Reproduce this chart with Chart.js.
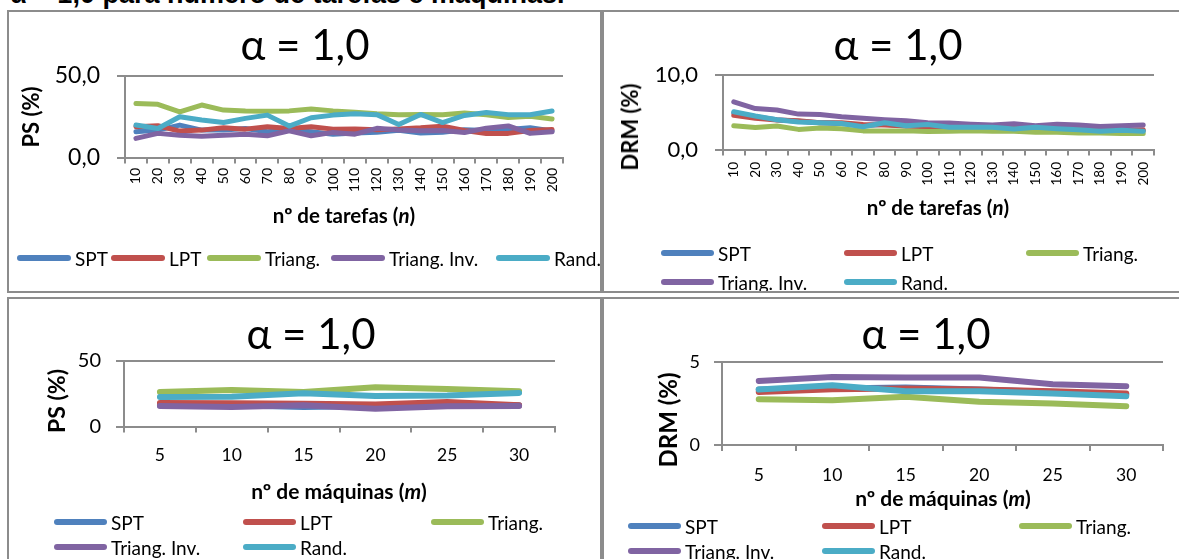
<!DOCTYPE html>
<html><head><meta charset="utf-8">
<script src="https://cdn.jsdelivr.net/npm/chart.js@4.4.1/dist/chart.umd.min.js"></script>
<style>
html,body{margin:0;padding:0;background:#fff;}
body{width:1179px;height:559px;position:relative;overflow:hidden;font-family:Lato,'Open Sans',sans-serif;color:#000;}
.panel{position:absolute;border:2px solid #8c8c8c;box-sizing:border-box;overflow:hidden;}
.panel canvas{position:absolute;left:0;top:0;}
.t{position:absolute;white-space:nowrap;line-height:1;}
.c{transform:translate(-50%,-50%);}
.r{transform:translate(-50%,-50%) rotate(-90deg);}
.ttl{font-size:42px;}
.ax{font-weight:bold;}
.leg{font-size:19px;transform:translateY(-50%);}
.lline{position:absolute;height:6px;border-radius:3px;}
#caption{position:absolute;left:10px;top:-19px;font:bold 27px 'Liberation Sans',Arial,sans-serif;white-space:nowrap;line-height:1;}
</style></head>
<body>
<div id="caption">α = 1,0 para número de tarefas e máquinas.</div>
<script>
// ---- data ----
const tarefas = [10,20,30,40,50,60,70,80,90,100,110,120,130,140,150,160,170,180,190,200];
const maquinas = [5,10,15,20,25,30];
const seriesNames = ['SPT','LPT','Triang.','Triang. Inv.','Rand.'];

const psTarefasTicks = ['0,0','50,0'];
const drmTarefasTicks = ['0,0','10,0'];
const psMaquinasTicks = ['0','50'];
const drmMaquinasTicks = ['0','5'];

const psTarefasSPT    = [15.8,16.8,19.9,16.8,16.8,17.8,15.8,16.8,15.8,14.2,15.0,15.5,16.7,15.0,15.5,17.0,16.6,17.2,18.2,16.2];
const psTarefasLPT    = [18.9,19.5,16.2,16.8,18.2,17.4,18.9,17.8,18.9,17.4,17.5,17.0,17.5,18.2,19.2,16.6,14.7,14.8,16.6,17.2];
const psTarefasTri    = [33.2,32.6,28.0,32.2,29.1,28.5,28.4,28.6,29.8,28.6,27.8,26.8,26.2,26.4,26.2,27.3,26.2,24.5,25.3,23.6];
const psTarefasTriInv = [11.7,14.8,13.7,13.1,13.7,14.3,13.3,16.4,13.3,15.4,14.3,17.9,16.9,16.4,16.5,15.3,18.0,19.4,14.8,15.8];
const psTarefasRand   = [19.9,17.8,25.0,23.0,21.5,24.0,26.0,19.3,24.4,26.0,26.8,26.3,20.3,26.4,21.4,25.8,27.6,26.3,26.2,28.5];

const drmTarefasSPT    = [4.90,4.40,4.00,3.80,3.60,3.50,3.20,3.40,3.15,3.20,2.95,2.95,2.90,2.80,2.90,2.75,2.70,2.50,2.55,2.50];
const drmTarefasLPT    = [4.60,4.20,3.95,3.85,3.60,3.60,3.35,3.30,3.15,3.05,3.00,2.90,2.85,2.85,2.80,2.80,2.75,2.60,2.60,2.65];
const drmTarefasTri    = [3.20,2.95,3.15,2.70,2.90,2.80,2.50,2.50,2.50,2.40,2.45,2.50,2.45,2.45,2.30,2.30,2.20,2.20,2.15,2.15];
const drmTarefasTriInv = [6.40,5.50,5.30,4.75,4.70,4.40,4.20,4.00,3.85,3.60,3.55,3.40,3.30,3.45,3.20,3.40,3.30,3.10,3.20,3.30];
const drmTarefasRand   = [5.07,4.50,4.00,3.70,3.60,3.50,3.05,3.60,3.20,3.35,3.00,3.00,3.00,2.75,3.00,2.80,2.65,2.45,2.60,2.45];

const psMaquinasSPT    = [16.2,16.2,14.9,15.6,16.2,16.2];
const psMaquinasLPT    = [17.9,17.7,17.4,16.7,18.7,16.2];
const psMaquinasTri    = [26.4,27.9,26.4,30.0,28.7,26.9];
const psMaquinasTriInv = [15.6,14.9,16.2,13.6,15.4,15.6];
const psMaquinasRand   = [22.6,22.8,25.4,23.3,23.6,25.6];

const drmMaquinasSPT    = [3.34,3.40,3.46,3.34,3.20,3.04];
const drmMaquinasLPT    = [3.20,3.36,3.40,3.34,3.24,3.10];
const drmMaquinasTri    = [2.76,2.70,2.90,2.60,2.50,2.34];
const drmMaquinasTriInv = [3.86,4.10,4.06,4.06,3.66,3.54];
const drmMaquinasRand   = [3.34,3.60,3.24,3.24,3.10,2.94];

// ---- styles / layout ----
const seriesColors = ['#4F81BD','#C0504D','#9BBB59','#8064A2','#4BACC6'];
const panels = {
  tl:{x:7,  y:10,  w:595, h:283},
  tr:{x:602,y:10,  w:579, h:283},
  bl:{x:7,  y:297, w:595, h:280},
  br:{x:602,y:297, w:579, h:280}
};
for (const k in panels){
  const p = panels[k], d = document.createElement('div');
  d.className='panel'; d.id=k;
  Object.assign(d.style,{left:p.x+'px',top:p.y+'px',width:p.w+'px',height:p.h+'px'});
  document.body.appendChild(d);
  p.ox = p.x+2; p.oy = p.y+2; p.el = d;
}

Chart.defaults.font.family = "Lato, 'Open Sans', sans-serif";
Chart.defaults.color = '#000';

const chartCfgs = [
  {panel:'tl', cats:tarefas, series:[psTarefasSPT,psTarefasLPT,psTarefasTri,psTarefasTriInv,psTarefasRand],
   ticks:psTarefasTicks, ymax:50, w:591, h:279, plot:{l:116,r:554,t:64,b:145.5},
   yFont:23, yGap:[8,17], xFont:14, xRot:90, xGap:[6,4.5], lw:5},
  {panel:'tr', cats:tarefas, series:[drmTarefasSPT,drmTarefasLPT,drmTarefasTri,drmTarefasTriInv,drmTarefasRand],
   ticks:drmTarefasTicks, ymax:10, w:575, h:279, plot:{l:119,r:550,t:63,b:137.5},
   yFont:22, yGap:[8,17], xFont:13.5, xRot:90, xGap:[6,6.5], lw:5},
  {panel:'bl', cats:maquinas, series:[psMaquinasSPT,psMaquinasLPT,psMaquinasTri,psMaquinasTriInv,psMaquinasRand],
   ticks:psMaquinasTicks, ymax:50, w:591, h:260, plot:{l:115,r:546,t:62,b:127.5},
   yFont:20, yGap:[8,15], xFont:17.5, xRot:0, xGap:[6,12], lw:6},
  {panel:'br', cats:maquinas, series:[drmMaquinasSPT,drmMaquinasLPT,drmMaquinasTri,drmMaquinasTriInv,drmMaquinasRand],
   ticks:drmMaquinasTicks, ymax:5, w:575, h:260, plot:{l:118,r:559,t:63,b:146},
   yFont:18, yGap:[8,14], xFont:17.5, xRot:0, xGap:[6,14], lw:6}
];

function build(cfg){
  const p = panels[cfg.panel];
  const cv = document.createElement('canvas');
  cv.width = cfg.w; cv.height = cfg.h;
  p.el.appendChild(cv);
  const datasets = cfg.series.map((d,i)=>({
    label: seriesNames[i], data: d, borderColor: seriesColors[i], backgroundColor: seriesColors[i],
    borderWidth: cfg.lw, pointRadius:0, pointHoverRadius:0, fill:false, tension:0,
    borderJoinStyle:'round', borderCapStyle:'round', order: seriesNames.length - i
  }));
  new Chart(cv, {type:'line', data:{labels: cfg.cats.map(String), datasets}, options:{
    responsive:false, animation:false, devicePixelRatio:1, events:[],
    layout:{padding:{left:0, top:cfg.plot.t, right: cfg.w - cfg.plot.r, bottom:0}},
    plugins:{legend:{display:false}, title:{display:false}, tooltip:{enabled:false}},
    scales:{
      x:{type:'category', offset:true,
         grid:{offset:true, drawOnChartArea:false, drawTicks:true, tickLength:cfg.xGap[0], color:'#8c8c8c', lineWidth:2},
         border:{display:true, color:'#8c8c8c', width:2},
         ticks:{autoSkip:false, maxRotation:cfg.xRot, minRotation:cfg.xRot, padding:cfg.xGap[1], font:{size:cfg.xFont}, color:'#000'},
         afterFit: s => { s.height = cfg.h - cfg.plot.b; }
      },
      y:{type:'linear', min:0, max:cfg.ymax,
         ticks:{stepSize:cfg.ymax, padding:cfg.yGap[1], font:{size:cfg.yFont}, color:'#000', callback:(v,i)=>cfg.ticks[i]},
         grid:{drawTicks:true, tickLength:cfg.yGap[0], color:'#8c8c8c', lineWidth:2},
         border:{display:true, color:'#8c8c8c', width:2},
         afterFit: s => { s.width = cfg.plot.l; }
      }
    }
  }});
}
chartCfgs.forEach(build);

// ---- texts (titles, axis titles, legends) ----
const textCfgs = [
  {panel:'tl', title:[305,44], xt:[344,215,20.5,'nº de tarefas (<i>n</i>)'], yt:[31,117,22,'PS (%)'],
   leg:{rows:[258], cols:[17,111,207,331,496], per:5, lw:54}},
  {panel:'tr', title:[898,44], xt:[938,207,20.5,'nº de tarefas (<i>n</i>)'], yt:[630,127,22,'DRM (%)'],
   leg:{rows:[253,282], cols:[661,844,1026], per:3, lw:53}},
  {panel:'bl', title:[311,333], xt:[339,490,21,'nº de máquinas (<i>m</i>)'], yt:[56,401,23,'PS (%)'],
   leg:{rows:[522,547], cols:[54,243,431], per:3, lw:53}},
  {panel:'br', title:[926,333], xt:[943,497,21,'nº de máquinas (<i>m</i>)'], yt:[668,420,24,'DRM (%)'],
   leg:{rows:[526,551], cols:[628,822,1019], per:3, lw:53}}
];
function add(p, html, x, y, cls, size){
  const e = document.createElement('div');
  e.className = 't ' + cls; e.innerHTML = html;
  e.style.left = (x - p.ox) + 'px'; e.style.top = (y - p.oy) + 'px';
  if (size) e.style.fontSize = size + 'px';
  p.el.appendChild(e); return e;
}
textCfgs.forEach(tc=>{
  const p = panels[tc.panel];
  add(p, 'α = 1,0', tc.title[0], tc.title[1], 'c ttl');
  add(p, tc.xt[3], tc.xt[0], tc.xt[1], 'c ax', tc.xt[2]);
  add(p, tc.yt[3], tc.yt[0], tc.yt[1], 'r ax', tc.yt[2]);
  seriesNames.forEach((name,i)=>{
    const row = Math.floor(i/tc.leg.per), col = i % tc.leg.per;
    const x = tc.leg.cols[col], y = tc.leg.rows[row];
    const l = document.createElement('div');
    l.className='lline';
    Object.assign(l.style,{left:(x-p.ox)+'px', top:(y-3-p.oy)+'px', width:tc.leg.lw+'px', background:seriesColors[i]});
    p.el.appendChild(l);
    add(p, name, x + tc.leg.lw + 4, y, 'leg');
  });
});
</script>
</body></html>
